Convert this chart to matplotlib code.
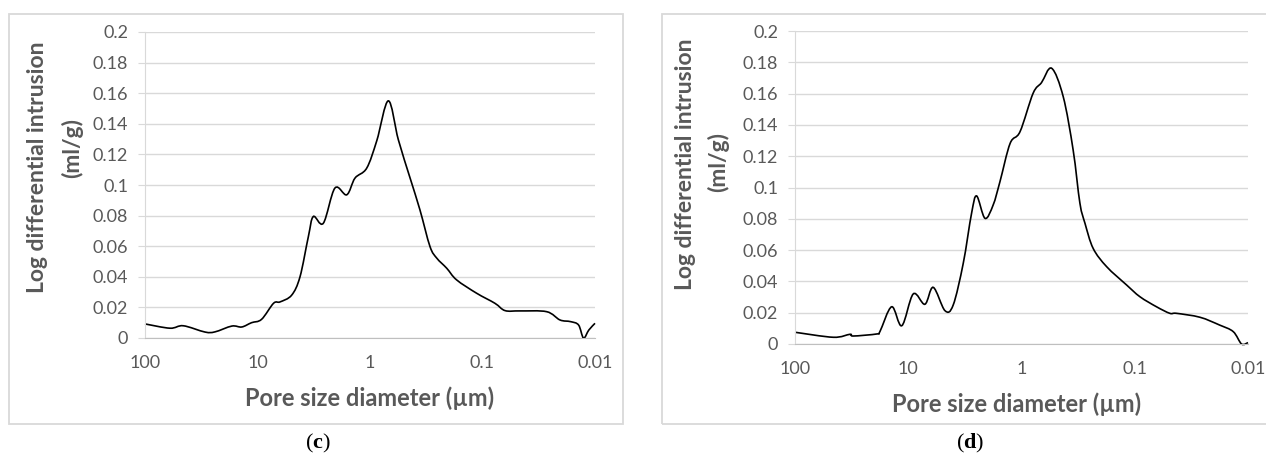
import numpy as np
import matplotlib.pyplot as plt
from matplotlib.patches import Rectangle, PathPatch
from matplotlib.path import Path
from matplotlib.ticker import NullLocator

plt.rcParams['font.family'] = ['Lato', 'DejaVu Sans']
plt.rcParams['mathtext.fontset'] = 'custom'
plt.rcParams['mathtext.rm'] = 'Liberation Serif'
plt.rcParams['mathtext.bf'] = 'Liberation Serif:bold'

# panel (c): pore diameter (um) vs log differential intrusion (ml/g)
diam_c = [100, 60, 45.7, 29.3, 23.9, 16.9, 13.8, 11.3, 9.2, 7.2, 6.3, 4.97, 4.19,
          3.53, 3.19, 2.6, 2.05, 1.61, 1.36, 1.07, 0.87, 0.687, 0.56, 0.44, 0.36,
          0.293, 0.255, 0.208, 0.17, 0.113, 0.0776, 0.063, 0.0464, 0.0269, 0.0205,
          0.0165, 0.014, 0.01265, 0.01135, 0.01]
intr_c = [0.0092, 0.0064, 0.008, 0.0039, 0.004, 0.0078, 0.0072, 0.010, 0.0122, 0.0227,
          0.0236, 0.028, 0.040, 0.0663, 0.0794, 0.075, 0.098, 0.0936, 0.1045, 0.111,
          0.129, 0.155, 0.1296, 0.1045, 0.0838, 0.0598, 0.0522, 0.0456, 0.038, 0.0293,
          0.0227, 0.0179, 0.0177, 0.0172, 0.0118, 0.0107, 0.0085, 0.0, 0.0052, 0.0096]

# panel (d)
diam_d = [100, 45.9, 32.7, 30.6, 19.0, 17.8, 14.0, 11.4, 9.03, 7.13, 6.02, 4.74, 4.01,
          3.27, 2.76, 2.49, 2.10, 1.78, 1.55, 1.26, 1.03, 0.79, 0.666, 0.542,
          0.428, 0.35, 0.305, 0.275, 0.233, 0.177, 0.118, 0.090, 0.0643, 0.049,
          0.0428, 0.0266, 0.0178, 0.0135, 0.0114, 0.01]
intr_d = [0.0075, 0.0043, 0.0062, 0.0051, 0.0064, 0.0079, 0.0238, 0.0117, 0.032, 0.0254,
          0.0362, 0.0213, 0.0249, 0.0515, 0.0835, 0.0946, 0.0803, 0.0888, 0.1037,
          0.1282, 0.1357, 0.1602, 0.167, 0.1762, 0.158, 0.124, 0.090, 0.0771, 0.0611,
          0.0494, 0.0377, 0.0302, 0.0238, 0.0196, 0.0196, 0.0171, 0.0121, 0.0079, 0.0, 0.0009]

yticks = [0, 0.02, 0.04, 0.06, 0.08, 0.1, 0.12, 0.14, 0.16, 0.18, 0.2]
ytick_labels = ['0', '0.02', '0.04', '0.06', '0.08', '0.1', '0.12', '0.14', '0.16', '0.18', '0.2']
xticks = [100, 10, 1, 0.1, 0.01]
xtick_labels = ['100', '10', '1', '0.1', '0.01']

W, H = 1266, 459
GRAY = '#595959'
LIGHT = '#d9d9d9'

fig = plt.figure(figsize=(W / 100, H / 100), dpi=100)


def fx(x):
    return x / W


def fy(y):
    return 1 - y / H


def smooth_path(diam, intr):
    # Excel-style smoothed line: Catmull-Rom segments as cubic Beziers,
    # built in log-x space so it looks right on the log axis
    u = np.log10(diam)
    v = np.asarray(intr, dtype=float)
    n = len(u)
    verts = [(diam[0], v[0])]
    codes = [Path.MOVETO]
    for i in range(n - 1):
        i0 = max(i - 1, 0)
        i3 = min(i + 2, n - 1)
        c1 = (u[i] + (u[i + 1] - u[i0]) / 6, v[i] + (v[i + 1] - v[i0]) / 6)
        c2 = (u[i + 1] - (u[i3] - u[i]) / 6, v[i + 1] - (v[i3] - v[i]) / 6)
        verts += [(10 ** c1[0], c1[1]), (10 ** c2[0], c2[1]), (diam[i + 1], v[i + 1])]
        codes += [Path.CURVE4] * 3
    return Path(verts, codes)


def draw_panel(box, frame, diam, intr, ylab1, ylab2, xlab, tag, tag_pos):
    x0, x1, y0, y1 = box
    ax = fig.add_axes([fx(x0), fy(y1), (x1 - x0) / W, (y1 - y0) / H])
    ax.set_xscale('log')
    ax.set_xlim(100, 0.01)
    ax.set_ylim(0, 0.2)
    ax.add_patch(PathPatch(smooth_path(diam, intr), fill=False, edgecolor='black',
                           lw=1.2, clip_on=False, transform=ax.transData))
    ax.set_xticks(xticks)
    ax.set_xticklabels(xtick_labels)
    ax.xaxis.set_minor_locator(NullLocator())
    ax.set_yticks(yticks)
    ax.set_yticklabels(ytick_labels)
    ax.grid(axis='y', color=LIGHT, lw=1)
    ax.set_axisbelow(True)
    for s in ['top', 'right']:
        ax.spines[s].set_visible(False)
    ax.spines['left'].set_color(LIGHT)
    ax.spines['bottom'].set_color('#bfbfbf')
    ax.tick_params(axis='y', length=5, color=LIGHT, pad=7, labelsize=13, labelcolor=GRAY)
    ax.tick_params(axis='x', length=0, pad=12, labelsize=13, labelcolor=GRAY)

    fx0, fy0, fx1, fy1 = frame
    fig.patches.append(Rectangle((fx(fx0), fy(fy1)), (fx1 - fx0) / W, (fy1 - fy0) / H,
                                 transform=fig.transFigure, fill=False,
                                 edgecolor=LIGHT, lw=1.3))

    fig.text(fx(ylab1[0]), fy(ylab1[1]), 'Log differential intrusion', rotation=90,
             ha='center', va='center', fontsize=16.5, fontweight='bold', color=GRAY)
    fig.text(fx(ylab2[0]), fy(ylab2[1]), '(ml/g)', rotation=90,
             ha='center', va='center', fontsize=16.5, fontweight='bold', color=GRAY)
    fig.text(fx(xlab[0]), fy(xlab[1]), 'Pore size diameter (µm)',
             ha='center', va='center', fontsize=17, fontweight='bold', color=GRAY)
    fig.text(fx(tag_pos[0]), fy(tag_pos[1]), tag, ha='center', va='center',
             fontsize=16, color='black')
    return ax


draw_panel((145, 595, 32, 338), (9, 14, 623, 424), diam_c, intr_c,
           (38, 167), (72, 148), (370, 398), r'$(\mathbf{c})$', (318, 443))
draw_panel((795, 1248, 31, 344), (662, 14, 1290, 424), diam_d, intr_d,
           (686, 164), (718, 162), (1017, 404), r'$(\mathbf{d})$', (970, 443))

fig.savefig('out.png', dpi=100)
